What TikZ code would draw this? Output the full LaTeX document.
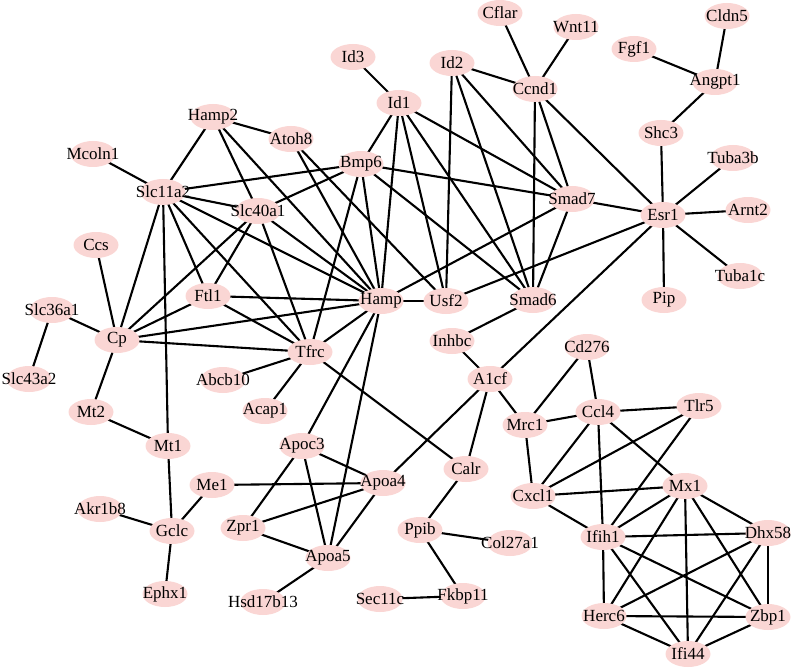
\documentclass[tikz,border=0pt]{standalone}
\usepackage{fontspec}
\setmainfont{Liberation Serif}
\usetikzlibrary{shapes.geometric,backgrounds}
\definecolor{nodepink}{RGB}{250,214,212}
\begin{document}
\begin{tikzpicture}[x=1pt,y=-1pt,
  gene/.style={ellipse, fill=nodepink, minimum width=45pt, minimum height=26pt, inner sep=0pt,
    font=\fontsize{17}{19}\selectfont,
    execute at begin node={\hbox to 0pt\bgroup\hss},
    execute at end node={\hss\egroup}},
  edge/.style={line width=2.1pt, black}]
\useasboundingbox (0,0) rectangle (797,671);
\foreach \n/\x/\y in {
Cflar/500/13, Wnt11/576/27, Cldn5/727/16, Fgf1/634/49, Angpt1/715/82,
Id3/353/57, Id2/452/63, Ccnd1/535/89, Id1/399/103, Hamp2/213/117,
Atoh8/291/139, Shc3/661/133, Tuba3b/733/158, Mcoln1/93/154, Bmp6/361/164,
Slc11a2/163/192, Smad7/572/199, Slc40a1/258/211, Esr1/663/215, Arnt2/748/210,
Ccs/96/245, Tuba1c/740/276, Ftl1/208/296, Hamp/381/301, Usf2/446/301,
Smad6/533/300, Pip/664/300, Slc36a1/52/310, Cp/117/340, Inhbc/452/341,
Cd276/587/347, Tfrc/310/352, A1cf/490/379, Slc43a2/29/379, Abcb10/223/380,
Tlr5/699/406, Acap1/265/411, Ccl4/598/412, Mt2/91/412, Mrc1/525/425,
Mt1/168/446, Apoc3/302/446, Calr/466/469, Apoa4/383/483, Me1/212/485,
Mx1/685/486, Cxcl1/533/496, Akr1b8/100/509, Zpr1/243/528, Ppib/420/530,
Gclc/172/531, Dhx58/768/533, Ifih1/603/537, Col27a1/510/543, Apoa5/328/558,
Ephx1/165/594, Fkbp11/463/596, Sec11c/380/599, Hsd17b13/263/602,
Herc6/604/616, Zbp1/768/617, Ifi44/688/654}
  \node[gene] (\n) at (\x,\y) {\n};
\begin{pgfonlayer}{background}
\foreach \a/\b in {
Cflar/Ccnd1, Wnt11/Ccnd1, Id2/Ccnd1, Cldn5/Angpt1, Fgf1/Angpt1, Angpt1/Shc3,
Shc3/Esr1, Tuba3b/Esr1, Arnt2/Esr1, Tuba1c/Esr1, Pip/Esr1, Ccnd1/Esr1,
Smad7/Esr1, Esr1/Usf2, Esr1/A1cf, Ccnd1/Smad7, Ccnd1/Smad6, Id2/Usf2,
Id2/Smad6, Id2/Smad7, Id1/Id3, Id1/Bmp6, Id1/Hamp, Id1/Usf2, Id1/Smad6,
Id1/Smad7, Bmp6/Slc11a2, Bmp6/Slc40a1, Bmp6/Smad7, Bmp6/Smad6, Bmp6/Hamp,
Bmp6/Tfrc, Atoh8/Hamp2, Atoh8/Hamp, Atoh8/Usf2, Hamp2/Slc11a2, Hamp2/Slc40a1,
Hamp2/Hamp, Mcoln1/Slc11a2, Slc11a2/Slc40a1, Slc11a2/Hamp, Slc11a2/Cp,
Slc11a2/Mt1, Slc11a2/Ftl1, Slc11a2/Tfrc, Slc40a1/Cp, Slc40a1/Ftl1,
Slc40a1/Tfrc, Slc40a1/Hamp, Ftl1/Cp, Ftl1/Hamp, Ftl1/Tfrc, Cp/Ccs,
Cp/Slc36a1, Cp/Hamp, Cp/Tfrc, Cp/Mt2, Slc36a1/Slc43a2, Mt2/Mt1, Mt1/Gclc,
Tfrc/Hamp, Tfrc/Abcb10, Tfrc/Acap1, Tfrc/Calr, Hamp/Usf2, Hamp/Smad7,
Hamp/Apoc3, Hamp/Apoa5, Smad7/Smad6, Smad6/Inhbc, Inhbc/A1cf, A1cf/Mrc1,
A1cf/Calr, A1cf/Apoa4, Mrc1/Cd276, Mrc1/Ccl4, Mrc1/Cxcl1, Cd276/Ccl4,
Ccl4/Tlr5, Ccl4/Cxcl1, Ccl4/Ifih1, Ccl4/Mx1, Tlr5/Cxcl1, Tlr5/Ifih1,
Cxcl1/Mx1, Cxcl1/Ifih1, Mx1/Ifih1, Mx1/Herc6, Mx1/Ifi44, Mx1/Zbp1,
Mx1/Dhx58, Ifih1/Dhx58, Ifih1/Herc6, Ifih1/Ifi44, Ifih1/Zbp1, Dhx58/Herc6,
Dhx58/Ifi44, Dhx58/Zbp1, Herc6/Zbp1, Herc6/Ifi44, Zbp1/Ifi44, Calr/Ppib,
Ppib/Col27a1, Ppib/Fkbp11, Fkbp11/Sec11c, Apoa4/Apoc3, Apoa4/Me1,
Apoa4/Zpr1, Apoa4/Apoa5, Apoc3/Zpr1, Apoc3/Apoa5, Apoa5/Zpr1,
Apoa5/Hsd17b13, Me1/Gclc, Gclc/Akr1b8, Gclc/Ephx1}
  \draw[edge] (\a.center) -- (\b.center);
\end{pgfonlayer}
\end{tikzpicture}
\end{document}
